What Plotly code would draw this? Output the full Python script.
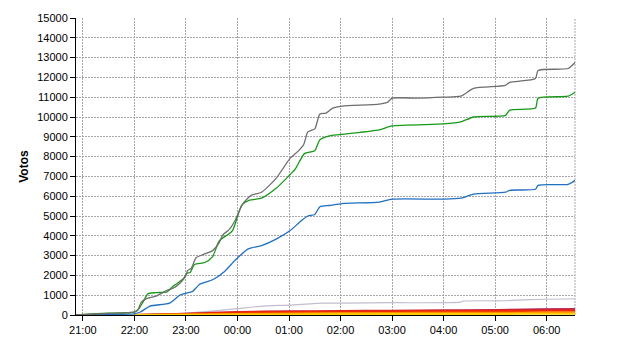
import plotly.graph_objects as go
from datetime import datetime, timedelta

# ---- data (times HH:MM, night spanning midnight) ----
gray_t = ["20:52", "21:00", "21:30", "22:00", "22:04", "22:08", "22:14", "22:25", "22:38", "22:45",
          "22:53", "23:00", "23:02", "23:06", "23:12", "23:20", "23:31", "23:38", "23:43", "23:50",
          "23:57", "00:06", "00:16", "00:28", "00:45", "01:01", "01:10", "01:17", "01:22", "01:30",
          "01:36", "01:43", "01:51", "02:02", "02:45", "02:55", "03:00", "03:30", "04:00", "04:20",
          "04:35", "05:12", "05:17", "05:47", "05:50", "06:25", "06:33"]
gray_v = [0, 20, 80, 150, 250, 650, 830, 950, 1250, 1350,
          1600, 2000, 2250, 2350, 2900, 3050, 3250, 3600, 4050, 4300,
          4750, 5600, 6050, 6200, 6900, 7900, 8250, 8600, 9250, 9400,
          10150, 10200, 10450, 10550, 10650, 10750, 10950, 10950, 11000, 11050,
          11450, 11600, 11750, 11950, 12350, 12450, 12750]

green_t = ["20:52", "21:00", "21:30", "22:00", "22:05", "22:10", "22:16", "22:25", "22:38", "22:45",
           "22:57", "23:01", "23:05", "23:10", "23:22", "23:31", "23:39", "23:54", "00:05", "00:14",
           "00:28", "00:45", "00:57", "01:07", "01:18", "01:30", "01:36", "01:47", "02:07", "02:45",
           "03:00", "04:00", "04:20", "04:35", "05:12", "05:17", "05:47", "05:50", "06:25", "06:33"]
green_v = [0, 30, 90, 150, 300, 650, 1080, 1130, 1170, 1450,
           1830, 2100, 2150, 2550, 2650, 2950, 3750, 4250, 5550, 5800,
           5900, 6400, 6900, 7350, 8150, 8300, 8850, 9050, 9150, 9350,
           9550, 9650, 9750, 10000, 10080, 10350, 10450, 10950, 11050, 11250]

blue_t = ["20:52", "21:00", "21:30", "22:00", "22:07", "22:18", "22:41", "22:53", "23:05", "23:08",
          "23:16", "23:31", "23:45", "23:57", "00:12", "00:28", "00:45", "01:01", "01:14", "01:22",
          "01:30", "01:36", "01:47", "02:02", "02:45", "03:00", "04:00", "04:20", "04:35", "05:12",
          "05:17", "05:47", "05:50", "06:25", "06:33"]
blue_v = [0, 10, 30, 60, 150, 450, 600, 1000, 1150, 1200,
          1550, 1780, 2200, 2750, 3330, 3500, 3830, 4250, 4750, 5000,
          5080, 5470, 5530, 5630, 5700, 5850, 5850, 5900, 6100, 6200,
          6300, 6350, 6550, 6600, 6800]

lgray_t = ["22:20", "23:00", "23:30", "00:00", "00:30", "01:00", "01:40", "02:00", "03:00", "04:20",
           "04:22", "05:10", "05:40", "06:33"]
lgray_v = [0, 100, 200, 320, 450, 500, 600, 600, 620, 650,
           700, 720, 780, 820]

small_t = ["22:00", "23:00", "00:00", "01:00", "02:00", "03:00", "04:00", "05:00", "06:00", "06:33"]
purple_v = [0, 20, 60, 90, 120, 150, 180, 230, 280, 300]
crimson_v = [0, 60, 150, 180, 200, 210, 230, 250, 270, 280]
red_v = [0, 50, 120, 150, 170, 180, 190, 200, 215, 220]
orange_v = [0, 20, 50, 80, 100, 105, 110, 115, 120, 120]
yellow_v = [0, 10, 20, 30, 40, 45, 50, 55, 60, 60]

x_range = ["20:52", "06:33"]


def to_dt(s):
    h, m = map(int, s.split(":"))
    base = datetime(2024, 1, 1) if h >= 12 else datetime(2024, 1, 2)
    return base + timedelta(hours=h, minutes=m)


fig = go.Figure()
series = [
    (lgray_t, lgray_v, "#c4bccf", 1.2),
    (small_t, purple_v, "#8a4a9a", 2.2),
    (small_t, crimson_v, "#cc2244", 2.2),
    (small_t, red_v, "#ee2a00", 2.2),
    (small_t, orange_v, "#ff8c00", 2),
    (small_t, yellow_v, "#ffcc00", 2),
    (blue_t, blue_v, "#2070c0", 1.3),
    (green_t, green_v, "#179a17", 1.3),
    (gray_t, gray_v, "#6e6e6e", 1.3),
]
for t, v, c, w in series:
    fig.add_trace(go.Scatter(x=[to_dt(s) for s in t], y=v, mode="lines",
                             line=dict(color=c, width=w, shape="spline", smoothing=0.6),
                             showlegend=False, hoverinfo="skip"))

grid_col = "#a9a5ad"
grid_dash = "2px,1px"
fig.update_layout(
    width=640, height=350,
    margin=dict(l=76, r=65, t=15, b=35),
    paper_bgcolor="white", plot_bgcolor="white",
    font=dict(family="Liberation Sans, Arial, sans-serif", size=11, color="black"),
    xaxis=dict(
        type="date", range=[to_dt(x_range[0]), to_dt(x_range[1])],
        tickformat="%H:%M", dtick=3600000, tick0=to_dt("21:00"),
        showgrid=True, gridcolor=grid_col, griddash=grid_dash, gridwidth=1,
        showline=True, linecolor="black", linewidth=1,
        ticks="outside", ticklen=5, tickcolor="black", zeroline=False,
    ),
    yaxis=dict(
        range=[0, 15000], dtick=1000, tickformat="d",
        showgrid=True, gridcolor=grid_col, griddash=grid_dash, gridwidth=1,
        showline=True, linecolor="black", linewidth=1,
        ticks="outside", ticklen=5, tickcolor="black", zeroline=False,
        title=dict(text="<b>Votos</b>", font=dict(size=12), standoff=6),
    ),
    shapes=[dict(type="line", xref="paper", yref="paper", x0=1, x1=1, y0=0, y1=1,
                 line=dict(color=grid_col, width=1, dash=grid_dash), layer="below")],
)

fig.write_html("out.html")
